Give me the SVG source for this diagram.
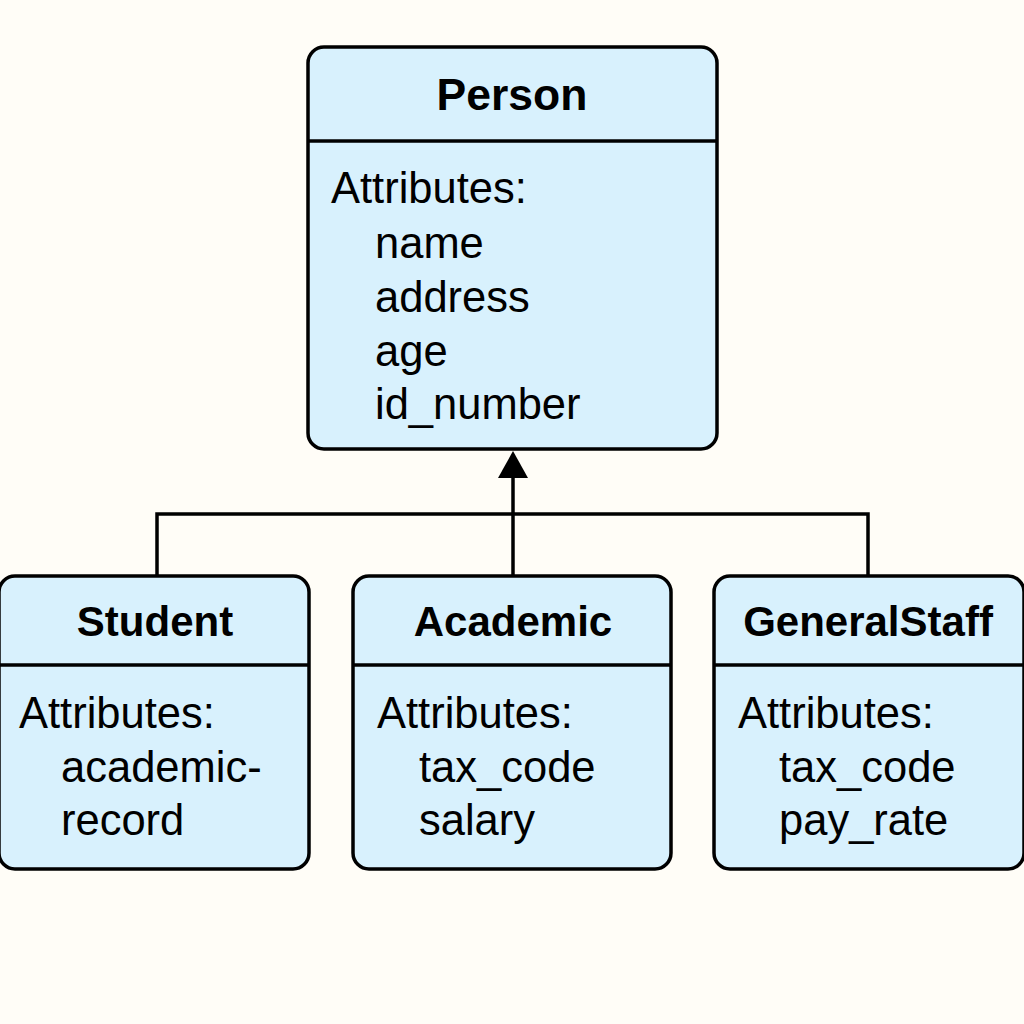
<svg xmlns="http://www.w3.org/2000/svg" width="1024" height="1024" viewBox="0 0 1024 1024">
<defs>
<style>
.box{fill:#d8f1fd;stroke:#000;stroke-width:3.5}
.div{stroke:#000;stroke-width:3.5}
.title{font-family:"Liberation Sans",Arial,sans-serif;font-weight:bold;font-size:42px;fill:#000;text-anchor:middle}
.attr{font-family:"Liberation Sans",Arial,sans-serif;font-size:43.5px;fill:#000}
.conn{stroke:#000;stroke-width:3.5;fill:none}
</style>
</defs>
<rect width="1024" height="1024" fill="#fffdf7"/>
<g id="connectors">
<path class="conn" d="M157,576 V514 H868 V576"/>
<line class="conn" x1="513" y1="576" x2="513" y2="476"/>
<path d="M498,478 L513,451 L528,478 Z" fill="#000"/>
</g>
<g id="person">
<rect class="box" x="308" y="47" width="409" height="402" rx="16"/>
<line class="div" x1="308" y1="141" x2="717" y2="141"/>
<text class="title" x="512" y="110" style="font-size:44.5px">Person</text>
<text class="attr" x="331" y="203">Attributes:</text>
<text class="attr" x="375" y="258">name</text>
<text class="attr" x="375" y="312">address</text>
<text class="attr" x="375" y="366">age</text>
<text class="attr" x="375" y="419">id_number</text>
</g>
<g id="student">
<rect class="box" x="-1" y="576" width="310" height="293" rx="16"/>
<line class="div" x1="-1" y1="665" x2="309" y2="665"/>
<text class="title" x="155" y="636">Student</text>
<text class="attr" x="19" y="728">Attributes:</text>
<text class="attr" x="61" y="782">academic-</text>
<text class="attr" x="61" y="835">record</text>
</g>
<g id="academic">
<rect class="box" x="353" y="576" width="318" height="293" rx="16"/>
<line class="div" x1="353" y1="665" x2="671" y2="665"/>
<text class="title" x="513" y="636">Academic</text>
<text class="attr" x="377" y="728">Attributes:</text>
<text class="attr" x="419" y="782">tax_code</text>
<text class="attr" x="419" y="835">salary</text>
</g>
<g id="generalstaff">
<rect class="box" x="714" y="576" width="310" height="293" rx="16"/>
<line class="div" x1="714" y1="665" x2="1024" y2="665"/>
<text class="title" x="868" y="636">GeneralStaff</text>
<text class="attr" x="738" y="728">Attributes:</text>
<text class="attr" x="779" y="782">tax_code</text>
<text class="attr" x="779" y="835">pay_rate</text>
</g>
</svg>
